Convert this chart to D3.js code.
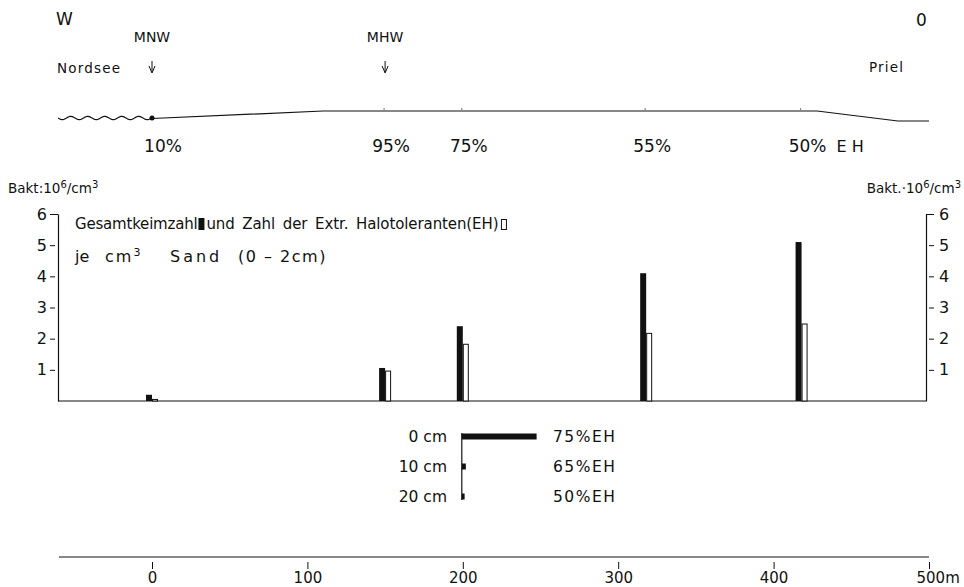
<!DOCTYPE html>
<html>
<head>
<meta charset="utf-8">
<title></title>
<style>
  body { margin: 0; background: #fff; }
  svg text { font-family: "DejaVu Sans", "Open Sans", sans-serif; fill: #111; }
</style>
</head>
<body>
<svg id="chart" xmlns="http://www.w3.org/2000/svg"></svg>

<script src="https://cdn.jsdelivr.net/npm/d3@7"></script>
<script>
const width = 964;
const height = 587;

// sampling sites along the transect (m) and bacteria counts (10^6 / cm3)
const sites = [0, 150, 200, 318, 418];
const totalCount = [0.2, 1.06, 2.4, 4.1, 5.1];
const ehCount = [0.05, 0.96, 1.82, 2.17, 2.47];
const ehPercent = ["10%", "95%", "75%", "55%", "50%"];

// beach profile (distance m, relative height)
const profileDist = [0, 110, 428, 480, 500];
const profileHeight = [0.25, 1, 1, 0, 0];

// depth profile at the 200 m site
const depthLabels = ["0 cm", "10 cm", "20 cm"];
const depths = [0, 10, 20];
const depthCount = [2.4, 0.13, 0.09];
const depthEH = ["75%EH", "65%EH", "50%EH"];

const yTicks = [1, 2, 3, 4, 5, 6];
const xTicks = [0, 100, 200, 300, 400, 500];

const svg = d3.select("#chart")
    .attr("width", width)
    .attr("height", height);

const x = d3.scaleLinear().domain([0, 500]).range([152, 929]);
const y = d3.scaleLinear().domain([0, 6]).range([401, 214]);
const yProf = d3.scaleLinear().domain([0, 1]).range([121, 111]);
const yDepth = d3.scaleLinear().domain([0, 20]).range([437, 497]);
// horizontal length of the depth bars uses the same units as the main y axis
const wDepth = d3.scaleLinear().domain([0, 6]).range([0, 401 - 214]);

const barW = 6;
const font = "\"DejaVu Sans\", sans-serif";

// ---------- top: beach profile ----------
const gTop = svg.append("g");

gTop.append("text").attr("x", 56).attr("y", 25).style("font-size", "17px").text("W");
gTop.append("text").attr("x", 916).attr("y", 26).style("font-size", "17px").text("0");

gTop.append("text").attr("x", x(0)).attr("y", 42).attr("text-anchor", "middle")
    .style("font-size", "14px").text("MNW");
gTop.append("text").attr("x", x(150)).attr("y", 42).attr("text-anchor", "middle")
    .style("font-size", "14px").text("MHW");
gTop.append("text").attr("x", 57).attr("y", 73).style("font-size", "13.5px")
    .style("letter-spacing", "1.2px").text("Nordsee");
gTop.append("text").attr("x", 869).attr("y", 72).style("font-size", "13.5px")
    .style("letter-spacing", "1.2px").text("Priel");

[0, 150].forEach(d => {
  gTop.append("line").attr("x1", x(d)).attr("x2", x(d)).attr("y1", 61).attr("y2", 72)
      .attr("stroke", "#111").attr("stroke-width", 1);
  gTop.append("path").attr("d", `M${x(d) - 3},66 L${x(d)},73 L${x(d) + 3},66`)
      .attr("fill", "none").attr("stroke", "#111").attr("stroke-width", 1);
});

// water surface (wavy line) west of the low-water mark
const wave = d3.range(58, x(0) + 0.5, 1).map(px => [px, 118 + 1.6 * Math.sin((px - 58) / 17 * 2 * Math.PI)]);
gTop.append("path").attr("d", d3.line()(wave))
    .attr("fill", "none").attr("stroke", "#111").attr("stroke-width", 1.2);
gTop.append("circle").attr("cx", x(0)).attr("cy", yProf(profileHeight[0]) - 0.5).attr("r", 2.5).attr("fill", "#111");

const profile = profileDist.map((d, i) => [x(d), yProf(profileHeight[i])]);
gTop.append("path").attr("d", d3.line()(profile))
    .attr("fill", "none").attr("stroke", "#111").attr("stroke-width", 1.2);

gTop.selectAll(".mark").data(sites.slice(1)).join("line")
    .attr("x1", d => x(d) - 1).attr("x2", d => x(d) - 1)
    .attr("y1", 108).attr("y2", 110)
    .attr("stroke", "#888").attr("stroke-width", 1.2);

gTop.selectAll(".pct").data(sites).join("text")
    .attr("x", (d, i) => x(d) + (i === 0 ? 11 : 6))
    .attr("y", 152)
    .attr("text-anchor", "middle")
    .style("font-size", "17px")
    .text((d, i) => ehPercent[i]);
gTop.append("text").attr("x", x(418) + 35).attr("y", 152).style("font-size", "16px")
    .style("letter-spacing", "5px").text("EH");

// ---------- main chart ----------
const main = svg.append("g");

const leftAxis = main.append("g")
    .attr("transform", `translate(58,0)`)
    .call(d3.axisLeft(y).tickValues(yTicks).tickFormat(d3.format("d")).tickSize(8).tickSizeOuter(0).tickPadding(3));
const rightAxis = main.append("g")
    .attr("transform", `translate(926,0)`)
    .call(d3.axisRight(y).tickValues(yTicks).tickFormat(d3.format("d")).tickSize(8).tickSizeOuter(0).tickPadding(5));
[leftAxis, rightAxis].forEach((a, k) => {
  const s = k === 0 ? -1 : 1;
  a.select(".domain").attr("stroke", "#111").attr("stroke-width", 1.2);
  a.selectAll(".tick line").attr("stroke", "#111")
      .attr("x1", d => (d === 6 ? 0 : 3 * s)).attr("x2", 8 * s);
  a.selectAll(".tick text").style("font-size", "16px").style("font-family", font).attr("fill", "#111");
});

main.append("line").attr("x1", 58).attr("x2", 926).attr("y1", y(0)).attr("y2", y(0))
    .attr("stroke", "#111").attr("stroke-width", 1.2);

const lt = main.append("text").attr("x", 8).attr("y", 193).style("font-size", "13.5px");
lt.append("tspan").text("Bakt:10");
lt.append("tspan").attr("dy", -5).style("font-size", "10px").text("6");
lt.append("tspan").attr("dy", 5).text("/cm");
lt.append("tspan").attr("dy", -5).style("font-size", "10px").text("3");

const rt = main.append("text").attr("x", 961).attr("y", 193).attr("text-anchor", "end").style("font-size", "13.5px");
rt.append("tspan").text("Bakt.·10");
rt.append("tspan").attr("dy", -5).style("font-size", "10px").text("6");
rt.append("tspan").attr("dy", 5).text("/cm");
rt.append("tspan").attr("dy", -5).style("font-size", "10px").text("3");

// legend text
const l1 = main.append("text").attr("x", 75).attr("y", 229).style("font-size", "15px")
    .style("letter-spacing", "-0.2px").text("Gesamtkeimzahl");
const l1w = l1.node().getComputedTextLength();
main.append("rect").attr("x", 75 + l1w + 1).attr("y", 218).attr("width", 6).attr("height", 12).attr("fill", "#111");
const l2 = main.append("text").attr("x", 75 + l1w + 9).attr("y", 229).style("font-size", "15px")
    .style("letter-spacing", "-0.1px").style("word-spacing", "3px")
    .text("und Zahl der Extr. Halotoleranten(EH)");
const l2w = l2.node().getComputedTextLength();
main.append("rect").attr("x", 75 + l1w + 12 + l2w).attr("y", 219.5).attr("width", 5).attr("height", 10)
    .attr("fill", "#fff").attr("stroke", "#111").attr("stroke-width", 1);

const l3 = main.append("text").attr("y", 262).style("font-size", "16px");
l3.append("tspan").attr("x", 75).text("je");
l3.append("tspan").attr("x", 105).style("letter-spacing", "2px").text("cm");
l3.append("tspan").attr("dy", -6).style("font-size", "11px").text("3");
l3.append("tspan").attr("x", 170).attr("dy", 6).style("letter-spacing", "3px").text("Sand");
l3.append("tspan").attr("x", 238).style("letter-spacing", "1.5px").text("(0 – 2cm)");

// bars
main.selectAll(".total").data(sites).join("rect")
    .attr("x", d => x(d) - barW)
    .attr("width", barW)
    .attr("y", (d, i) => y(totalCount[i]))
    .attr("height", (d, i) => y(0) - y(totalCount[i]))
    .attr("fill", "#111");

main.selectAll(".eh").data(sites).join("rect")
    .attr("x", d => x(d) + 0.5)
    .attr("width", barW - 1)
    .attr("y", (d, i) => y(ehCount[i]))
    .attr("height", (d, i) => y(0) - y(ehCount[i]))
    .attr("fill", "#fff")
    .attr("stroke", "#111")
    .attr("stroke-width", 1);

// ---------- depth inset ----------
const inset = svg.append("g");
const x0 = x(200) - 1;
inset.append("line").attr("x1", x0).attr("x2", x0).attr("y1", yDepth(0) - 4).attr("y2", yDepth(20) + 3)
    .attr("stroke", "#111").attr("stroke-width", 1.2);
inset.selectAll(".dbar").data(depths).join("rect")
    .attr("x", x0)
    .attr("y", d => yDepth(d) - 3.5)
    .attr("width", (d, i) => wDepth(depthCount[i]))
    .attr("height", 6)
    .attr("fill", "#111");
inset.selectAll(".dlab").data(depths).join("text")
    .attr("x", 447).attr("y", d => yDepth(d) + 5)
    .attr("text-anchor", "end").style("font-size", "15.5px")
    .text((d, i) => depthLabels[i]);
inset.selectAll(".deh").data(depths).join("text")
    .attr("x", 553).attr("y", d => yDepth(d) + 5)
    .style("font-size", "15.5px").style("letter-spacing", "1.5px")
    .text((d, i) => depthEH[i]);

// ---------- bottom distance axis ----------
const bottom = svg.append("g").attr("transform", "translate(0,557)");
bottom.append("line").attr("x1", 59).attr("x2", x(500)).attr("y1", 0).attr("y2", 0)
    .attr("stroke", "#111").attr("stroke-width", 1.2);
const bx = bottom.append("g")
    .call(d3.axisBottom(x).tickValues(xTicks).tickSize(8).tickPadding(7).tickFormat(d => d === 500 ? "500m" : d));
bx.select(".domain").remove();
bx.selectAll(".tick line").attr("y1", 5).attr("y2", 12).attr("stroke", "#111");
bx.selectAll(".tick text").style("font-size", "15px").style("font-family", font)
    .attr("fill", "#111")
    .filter(d => d === 500).attr("text-anchor", "start").attr("dx", -13);
</script>
</body>
</html>
